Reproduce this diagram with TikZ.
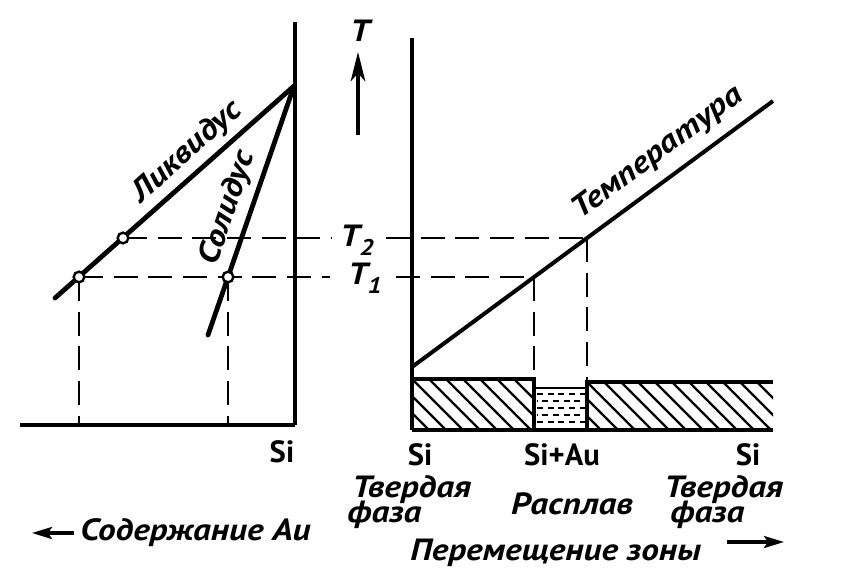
\documentclass[tikz,border=0pt]{standalone}
\usepackage{fontspec}
\setmainfont{PT Sans}
\newfontfamily\labfont{PT Sans Bold Italic}[FakeStretch=1.15]
\newfontfamily\chemfont{PT Sans Bold}
\usetikzlibrary{arrows.meta}
\tikzset{
  axisline/.style={line width=2.5pt},
  curveline/.style={line width=3.6pt, line cap=round},
  tline/.style={line width=3pt},
  dline/.style={line width=2.1pt, dash pattern=on 18pt off 8pt},
  hatchline/.style={line width=1.7pt},
  blockline/.style={line width=3pt},
  thinline/.style={line width=1.5pt},
  meltdash/.style={line width=1.5pt, dash pattern=on 4.5pt off 3.5pt},
  dotnode/.style={circle, draw, line width=1.8pt, fill=white, inner sep=0pt, minimum size=8pt},
  lbl/.style={font=\labfont\fontsize{23pt}{27pt}\selectfont, inner sep=0pt},
  chem/.style={font=\chemfont\fontsize{23pt}{27pt}\selectfont, inner sep=0pt},
  bigarrow/.style={line width=2.4pt, -{Stealth[length=22pt,width=11pt,inset=6pt]}},
  smallarrow/.style={line width=2.4pt, -{Stealth[length=15pt,width=9pt,inset=3pt]}},
}
\begin{document}
\begin{tikzpicture}[x=0.75pt,y=-0.75pt]
\useasboundingbox (0,0) rectangle (844,585);
\fill[white] (0,0) rectangle (844,585);
% ---------- coordinates ----------
\coordinate (Ltop) at (295,22);
\coordinate (Lbot) at (295,425);
\coordinate (Lleft) at (20,425);
\coordinate (apex) at (294,86);
\coordinate (liqend) at (55,298);
\coordinate (solend) at (208,335);
\coordinate (p2) at (123,238);
\coordinate (p1) at (79,277);
\coordinate (p1s) at (228,277);
\coordinate (V1) at (79,425);
\coordinate (V2) at (228,425);
\coordinate (T2a) at (332,238);
\coordinate (T2b) at (386,238);
\coordinate (T1a) at (330,277);
\coordinate (T1b) at (396,277);
\coordinate (X2) at (587,238);
\coordinate (X1) at (534,277);
\coordinate (B1) at (534,379);
\coordinate (B2) at (587,382);
\coordinate (Rtop) at (412,38);
\coordinate (Rbot) at (412,430);
\coordinate (tstart) at (412,367);
\coordinate (tend) at (773,101);
\coordinate (Aup0) at (358,135);
\coordinate (Aup1) at (358,52);
\coordinate (Al0) at (74,533);
\coordinate (Al1) at (32,533);
\coordinate (Ar0) at (727,542);
\coordinate (Ar1) at (784,542);
% ---------- left diagram ----------
\draw[axisline] (Lleft) -- (Lbot);
\draw[axisline] (Lbot) -- (Ltop);
\draw[dline] (p2) -- (T2a);
\draw[dline] (T2b) -- (X2);
\draw[dline] (p1) -- (T1a);
\draw[dline] (T1b) -- (X1);
\draw[dline] (p1) -- (V1);
\draw[dline] (p1s) -- (V2);
\draw[curveline] (liqend) -- (apex);
\draw[curveline] (solend) -- (apex);
\node[dotnode] (c2) at (p2) {};
\node[dotnode] (c1) at (p1) {};
\node[dotnode] (c1s) at (p1s) {};
% ---------- right diagram ----------
\begin{scope}
  \clip (412,379) rectangle (534,430);
  \foreach \k in {0,...,10} \draw[hatchline] ({361+\k*17},379) -- ++(51,51);
\end{scope}
\begin{scope}
  \clip (587,382) rectangle (773,430);
  \foreach \k in {0,...,14} \draw[hatchline] ({536+\k*17},382) -- ++(48,48);
\end{scope}
\foreach \yy/\ph in {394/0,401/4,408/0,415/4,422/0}
  \draw[meltdash, dash phase=\ph pt] (537,\yy) -- (585,\yy);
\draw[thinline] (534,388) -- (587,388);
\draw[blockline] (412,379) -- (534,379) -- (534,430);
\draw[blockline] (773,382) -- (587,382) -- (587,430);
\draw[blockline] (412,430) -- (773,430);
\draw[axisline] (Rtop) -- (Rbot);
\draw[dline] (X1) -- (B1);
\draw[dline] (X2) -- (B2);
\draw[tline] (tstart) -- (tend);
% ---------- arrows ----------
\draw[bigarrow] (Aup0) -- (Aup1);
\draw[smallarrow] (Al0) -- (Al1);
\draw[smallarrow] (Ar0) -- (Ar1);
% ---------- labels ----------
\node[lbl, rotate=41.8] (liq) at (187,152) {Ликвидус};
\node[lbl, rotate=70.9] (sol) at (228,208) {Солидус};
\node[lbl, rotate=36.4] (temp) at (658,153) {Температура};
\node[lbl] (Tax) at (360,31) {T};
\node[lbl] (T2) at (357,240) {T\raisebox{-7pt}{\fontsize{17pt}{17pt}\selectfont 2}};
\node[lbl] (T1) at (365,278) {T\raisebox{-7pt}{\fontsize{17pt}{17pt}\selectfont 1}};
\node[chem] (siL) at (282,452) {Si};
\node[chem] (si1) at (420,455) {Si};
\node[chem] (siau) at (562,455) {Si+Au};
\node[chem] (si2) at (748,455) {Si};
\node[lbl, anchor=base west] (tv1) at (352,497) {Твердая};
\node[lbl, anchor=base west] (fa1) at (347,522) {фаза};
\node[lbl, anchor=base west] (tv2) at (664,497) {Твердая};
\node[lbl, anchor=base west] (fa2) at (670,522) {фаза};
\node[lbl, anchor=base] (melt) at (572,514) {Расплав};
\node[lbl, anchor=base west] (move) at (410,560) {Перемещение зоны};
\node[lbl, anchor=base west] (au) at (80,540) {Содержание Au};
\end{tikzpicture}
\end{document}
